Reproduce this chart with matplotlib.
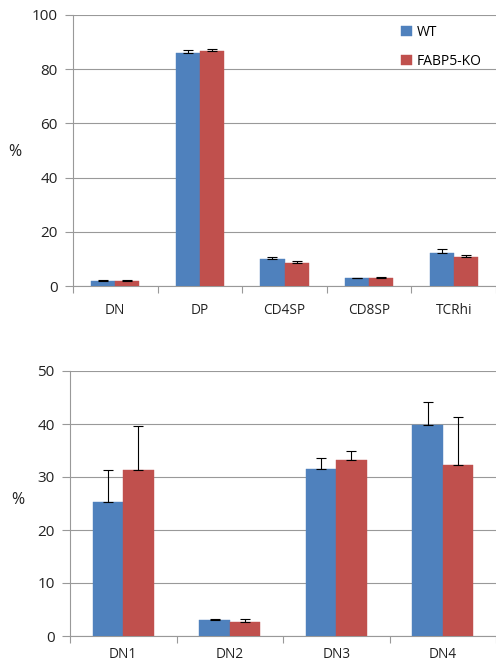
import matplotlib
matplotlib.use("Agg")
import matplotlib.pyplot as plt
import numpy as np

plt.rcParams['font.family'] = ['Open Sans', 'DejaVu Sans']

series = ["WT", "FABP5-KO"]
colors = ["#4F81BD", "#C0504D"]

top_cats = ["DN", "DP", "CD4SP", "CD8SP", "TCRhi"]
top_wt = [1.8, 86.1, 9.8, 2.9, 12.1]
top_wt_err = [0.3, 0.9, 0.9, 0.2, 1.4]
top_ko = [2.0, 86.6, 8.6, 2.9, 10.8]
top_ko_err = [0.2, 0.7, 0.5, 0.5, 0.5]

bot_cats = ["DN1", "DN2", "DN3", "DN4"]
bot_wt = [25.3, 3.0, 31.6, 39.9]
bot_wt_err = [6.0, 0.3, 1.9, 4.3]
bot_ko = [31.4, 2.6, 33.3, 32.2]
bot_ko_err = [8.2, 0.6, 1.7, 9.1]

fig = plt.figure(figsize=(4.96, 6.65), dpi=100)
ax1 = fig.add_axes([73/496, 1-286/665, 1-73/496, (286-15)/665])
ax2 = fig.add_axes([70/496, 1-636/665, 1-70/496, (636-371)/665])

def draw(ax, cats, wt, wterr, ko, koerr, ymax, step, xpad, legend=False):
    n = len(cats)
    x = np.arange(n)
    w = 1/3.5
    vals = [(wt, wterr), (ko, koerr)]
    for i, (v, e) in enumerate(vals):
        pos = x - w/2 + i*w
        ax.bar(pos, v, width=w, color=colors[i], edgecolor=colors[i], linewidth=0.3,
               label=series[i], zorder=3)
        ax.errorbar(pos, v, yerr=[np.zeros(n), e], fmt='none', ecolor='black',
                    elinewidth=0.8, capsize=3.5, capthick=0.8, zorder=4)
    ax.set_xlim(-0.5, n-0.5)
    ax.set_ylim(0, ymax)
    ax.set_yticks(np.arange(0, ymax+0.1, step))
    ax.yaxis.grid(True, color='#999999', linewidth=0.8, zorder=0)
    ax.set_axisbelow(True)
    ax.set_xticks(x)
    ax.set_xticklabels(cats, fontsize=9.8, color='#222222')
    ax.set_xticks(np.arange(-0.5, n, 1), minor=True)
    ax.tick_params(axis='x', which='major', length=0, pad=xpad)
    ax.tick_params(axis='x', which='minor', length=5, color='#999999', width=0.8)
    ax.tick_params(axis='y', length=6, color='#999999', width=0.8, labelsize=11,
                   labelcolor='#222222', pad=5)
    for s in ['top', 'right']:
        ax.spines[s].set_visible(False)
    for s in ['left', 'bottom']:
        ax.spines[s].set_color('#999999')
        ax.spines[s].set_linewidth(0.8)
    if legend:
        ax.legend(loc='upper right', bbox_to_anchor=(0.995, 1.01), frameon=False,
                  fontsize=10, handlelength=0.8, handleheight=0.8,
                  labelspacing=1.0, handletextpad=0.35, borderaxespad=0.5)

draw(ax1, top_cats, top_wt, top_wt_err, top_ko, top_ko_err, 100, 20, 12, legend=True)
draw(ax2, bot_cats, bot_wt, bot_wt_err, bot_ko, bot_ko_err, 50, 10, 8)

fig.text(15/496, 1-152/665, "%", fontsize=11.5, ha='center', va='center', color='#222222')
fig.text(18/496, 1-500/665, "%", fontsize=11.5, ha='center', va='center', color='#222222')

fig.savefig("out.png", dpi=100)
